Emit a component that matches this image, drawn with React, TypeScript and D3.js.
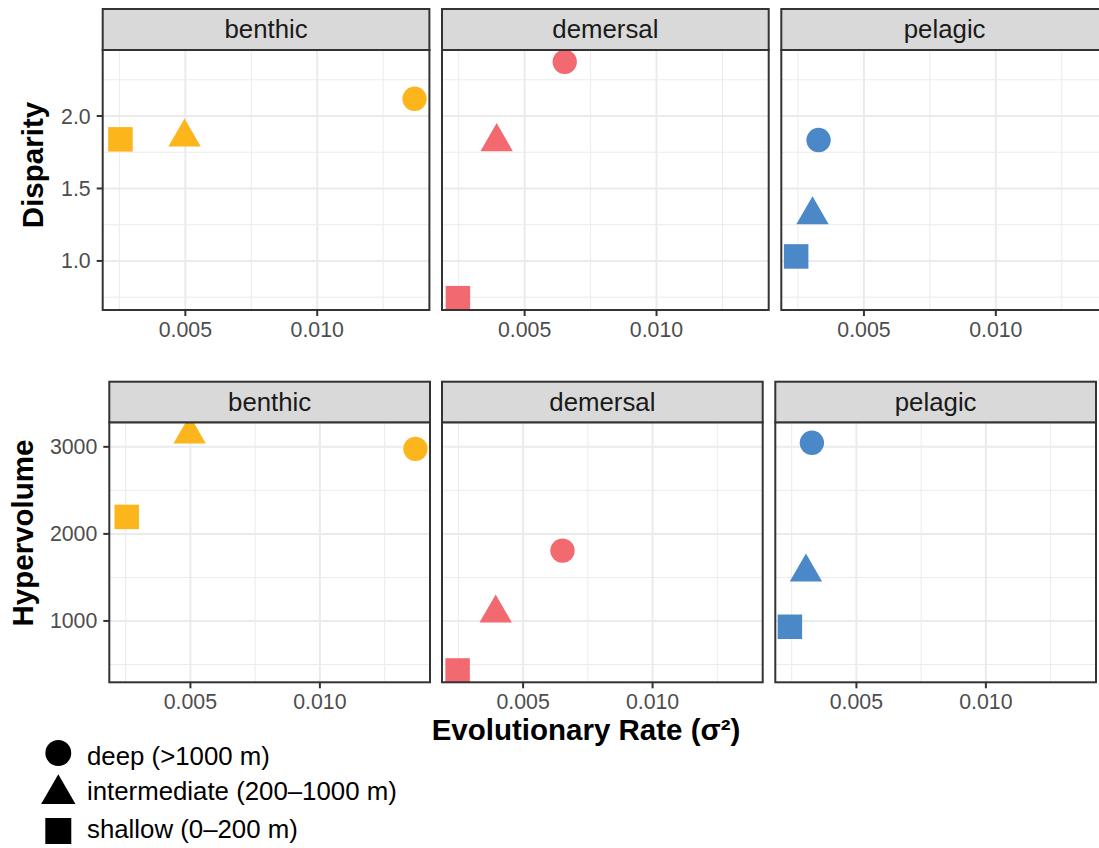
import React, { useRef, useEffect } from 'react';
import * as d3 from 'd3';

// facets, shapes and colours
const habitats = ['benthic', 'demersal', 'pelagic'];
const depths = ['deep', 'intermediate', 'shallow'];
const depthLabels = ['deep (>1000 m)', 'intermediate (200–1000 m)', 'shallow (0–200 m)'];
const habitatColors = ['#FCB51A', '#F26A6F', '#4B88C8'];

// values per habitat, in depth order (deep, intermediate, shallow)
const rateValues = [
  [0.01369, 0.00497, 0.00254],
  [0.00652, 0.00394, 0.00247],
  [0.00328, 0.00305, 0.00243],
];
const disparityValues = [
  [2.119, 1.854, 1.839],
  [2.374, 1.822, 0.743],
  [1.834, 1.318, 1.031],
];
const hypervolumeValues = [
  [2977, 3146, 2195],
  [1808, 1090, 431],
  [3046, 1560, 933],
];

const xTicks = [0.005, 0.01];
const disparityTicks = [1.0, 1.5, 2.0];
const hypervolumeTicks = [1000, 2000, 3000];

const FONT = '"Liberation Sans", Arial, Helvetica, sans-serif';
const W = 1099;
const H = 848;

// pad like ggplot: 5% on each side
function padded(values: number[]): [number, number] {
  const [lo, hi] = d3.extent(values) as [number, number];
  const pad = (hi - lo) * 0.05;
  return [lo - pad, hi + pad];
}

// minor gridlines halfway between major breaks
function minorTicks(ticks: number[], domain: [number, number]) {
  const step = ticks[1] - ticks[0];
  const out: number[] = [];
  for (let v = ticks[0] - step * 4.5; v <= domain[1]; v += step) {
    if (v >= domain[0]) out.push(v);
  }
  return out;
}

function drawShape(g: any, shape: string, cx: number, cy: number, color: string, scale = 1) {
  if (shape === 'deep') {
    g.append('circle').attr('cx', cx).attr('cy', cy).attr('r', 12.2 * scale).attr('fill', color);
  } else if (shape === 'intermediate') {
    // R's pch 17: circumcentre at the point
    const r = 18.7 * scale;
    const p = d3.path();
    p.moveTo(cx, cy - r);
    p.lineTo(cx + 0.866 * r, cy + r / 2);
    p.lineTo(cx - 0.866 * r, cy + r / 2);
    p.closePath();
    g.append('path').attr('d', p.toString()).attr('fill', color);
  } else {
    const s = 24.5 * scale;
    g.append('rect').attr('x', cx - s / 2).attr('y', cy - s / 2).attr('width', s).attr('height', s).attr('fill', color);
  }
}

export default function App() {
  const svgRef = useRef<SVGSVGElement>(null);

  useEffect(() => {
    const svg = d3.select(svgRef.current);
    svg.selectAll('*').remove();

    const xDomain = padded(rateValues.flat());

    const rows = [
      {
        title: 'Disparity',
        values: disparityValues,
        ticks: disparityTicks,
        fmt: d3.format('.1f'),
        stripTop: 9,
        plotTop: 50,
        plotBottom: 310,
        lefts: [102.7, 442, 781.3],
        width: 326.7,
        titleX: 43.3,
        titleY: 165,
      },
      {
        title: 'Hypervolume',
        values: hypervolumeValues,
        ticks: hypervolumeTicks,
        fmt: d3.format('d'),
        stripTop: 381.7,
        plotTop: 422.3,
        plotBottom: 682.3,
        lefts: [109.3, 442, 775.3],
        width: 320.7,
        titleX: 33.3,
        titleY: 533,
      },
    ];

    rows.forEach((row, ri) => {
      const yDomain = padded(row.values.flat());
      const y = d3.scaleLinear().domain(yDomain).range([row.plotBottom, row.plotTop]);
      const yMinor = minorTicks(row.ticks, yDomain);

      habitats.forEach((hab, hi) => {
        const left = row.lefts[hi];
        const x = d3.scaleLinear().domain(xDomain).range([left, left + row.width]);
        const xMinor = minorTicks(xTicks, xDomain);
        const g = svg.append('g');

        // panel background
        g.append('rect')
          .attr('x', left).attr('y', row.plotTop)
          .attr('width', row.width).attr('height', row.plotBottom - row.plotTop)
          .attr('fill', '#fff');

        // grid
        xMinor.forEach((v) => {
          g.append('line').attr('x1', x(v)).attr('x2', x(v))
            .attr('y1', row.plotTop).attr('y2', row.plotBottom)
            .attr('stroke', '#EBEBEB').attr('stroke-width', 1);
        });
        yMinor.forEach((v) => {
          g.append('line').attr('y1', y(v)).attr('y2', y(v))
            .attr('x1', left).attr('x2', left + row.width)
            .attr('stroke', '#EBEBEB').attr('stroke-width', 1);
        });
        xTicks.forEach((v) => {
          g.append('line').attr('x1', x(v)).attr('x2', x(v))
            .attr('y1', row.plotTop).attr('y2', row.plotBottom)
            .attr('stroke', '#EBEBEB').attr('stroke-width', 2);
        });
        row.ticks.forEach((v) => {
          g.append('line').attr('y1', y(v)).attr('y2', y(v))
            .attr('x1', left).attr('x2', left + row.width)
            .attr('stroke', '#EBEBEB').attr('stroke-width', 2);
        });

        // points, clipped to the panel
        const clipId = `clip-${ri}-${hi}`;
        g.append('clipPath').attr('id', clipId)
          .append('rect')
          .attr('x', left).attr('y', row.plotTop)
          .attr('width', row.width).attr('height', row.plotBottom - row.plotTop);
        const pts = g.append('g').attr('clip-path', `url(#${clipId})`);
        depths.forEach((dep, di) => {
          drawShape(pts, dep, x(rateValues[hi][di]), y(row.values[hi][di]), habitatColors[hi]);
        });

        // panel border
        g.append('rect')
          .attr('x', left).attr('y', row.plotTop)
          .attr('width', row.width).attr('height', row.plotBottom - row.plotTop)
          .attr('fill', 'none').attr('stroke', '#333333').attr('stroke-width', 2);

        // strip
        g.append('rect')
          .attr('x', left).attr('y', row.stripTop)
          .attr('width', row.width).attr('height', row.plotTop - row.stripTop)
          .attr('fill', '#D9D9D9').attr('stroke', '#333333').attr('stroke-width', 2);
        g.append('text')
          .attr('x', left + row.width / 2)
          .attr('y', (row.stripTop + row.plotTop) / 2 + 8.5)
          .attr('text-anchor', 'middle')
          .attr('font-family', FONT).attr('font-size', 25.8)
          .attr('fill', '#1A1A1A')
          .text(hab);

        // x axis ticks + labels
        xTicks.forEach((v) => {
          g.append('line').attr('x1', x(v)).attr('x2', x(v))
            .attr('y1', row.plotBottom).attr('y2', row.plotBottom + 6)
            .attr('stroke', '#333333').attr('stroke-width', 2);
          g.append('text')
            .attr('x', x(v)).attr('y', row.plotBottom + 27)
            .attr('text-anchor', 'middle')
            .attr('font-family', FONT).attr('font-size', 21.3)
            .attr('fill', '#4D4D4D')
            .text(d3.format('.3f')(v));
        });

        // y axis only on first column
        if (hi === 0) {
          row.ticks.forEach((v) => {
            g.append('line').attr('y1', y(v)).attr('y2', y(v))
              .attr('x1', left - 6).attr('x2', left)
              .attr('stroke', '#333333').attr('stroke-width', 2);
            g.append('text')
              .attr('x', left - 12).attr('y', y(v) + 7.5)
              .attr('text-anchor', 'end')
              .attr('font-family', FONT).attr('font-size', 21.3)
              .attr('fill', '#4D4D4D')
              .text(row.fmt(v));
          });
        }
      });

      svg.append('text')
        .attr('transform', `translate(${row.titleX},${row.titleY}) rotate(-90)`)
        .attr('text-anchor', 'middle')
        .attr('font-family', FONT).attr('font-size', 29.5).attr('font-weight', 'bold')
        .attr('fill', '#000')
        .text(row.title);
    });

    // x axis title
    svg.append('text')
      .attr('x', 586).attr('y', 740)
      .attr('text-anchor', 'middle')
      .attr('font-family', FONT).attr('font-size', 29.5).attr('font-weight', 'bold')
      .attr('fill', '#000')
      .text('Evolutionary Rate (σ²)');

    // legend
    const keyY = [753, 794, 831];
    const textY = [765, 800, 838];
    const legend = svg.append('g');
    depths.forEach((dep, di) => {
      drawShape(legend, dep, 58.3, keyY[di], '#000', 1.06);
      legend.append('text')
        .attr('x', 87).attr('y', textY[di])
        .attr('font-family', FONT).attr('font-size', 25.8)
        .attr('fill', '#000')
        .text(depthLabels[di]);
    });
  }, []);

  return (
    <svg
      ref={svgRef}
      width={W}
      height={H}
      style={{ position: 'absolute', left: 0, top: 0, background: '#fff' }}
    />
  );
}
